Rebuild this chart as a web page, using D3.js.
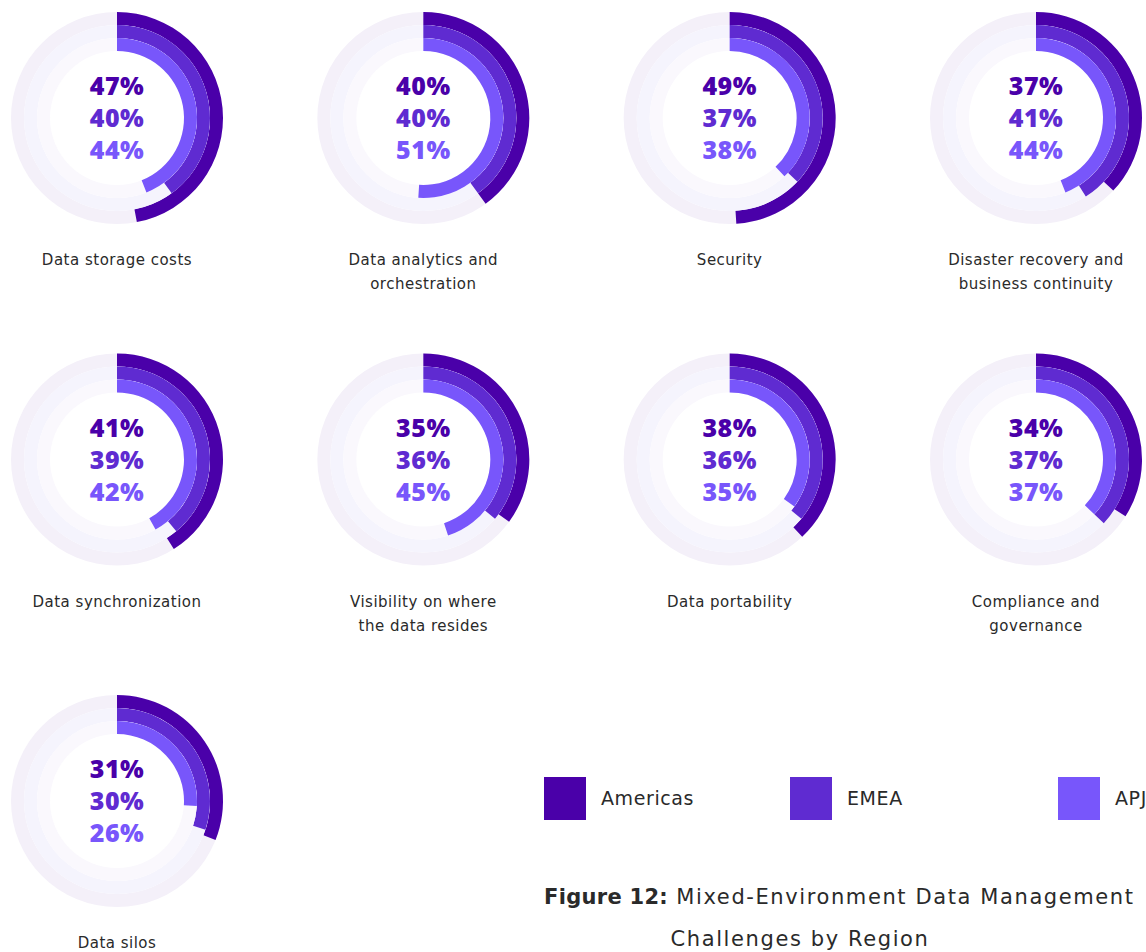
<!DOCTYPE html>
<html>
<head>
<meta charset="utf-8">
<script src="https://d3js.org/d3.v7.min.js"></script>
<style>
  body { margin: 0; background: #fff; }
  text { font-family: "DejaVu Sans", sans-serif; }
  text.pct { font-family: "Open Sans", sans-serif; }
</style>
</head>
<body>
<svg id="chart" width="1146" height="952"></svg>
<script>
// data
var categories = [
  ["Data storage costs"],
  ["Data analytics and", "orchestration"],
  ["Security"],
  ["Disaster recovery and", "business continuity"],
  ["Data synchronization"],
  ["Visibility on where", "the data resides"],
  ["Data portability"],
  ["Compliance and", "governance"],
  ["Data silos"]
];
var americas = [47, 40, 49, 37, 41, 35, 38, 34, 31];
var emea     = [40, 40, 37, 41, 39, 36, 36, 37, 30];
var apj      = [44, 51, 38, 44, 42, 45, 35, 37, 26];
var regions = ["Americas", "EMEA", "APJ"];

var colors = ["#4a00a9", "#5f2bd1", "#7856fb"];
var tracks = ["#f4f0f9", "#f5f4fd", "#faf8fd"];

var svg = d3.select("#chart");

// grid positions
var colX = d3.scalePoint().domain([0, 1, 2, 3]).range([117, 1036]);
var rowY = d3.scalePoint().domain([0, 1, 2]).range([118, 801]);

var angle = d3.scaleLinear().domain([0, 100]).range([0, 2 * Math.PI]);

// ring radii: outer -> inner
var radii = [[93, 106], [80, 93], [67, 80]];

categories.forEach(function(cat, i) {
  var vals = [americas[i], emea[i], apj[i]];
  var g = svg.append("g")
    .attr("transform", "translate(" + colX(i % 4) + "," + rowY(Math.floor(i / 4)) + ")");

  radii.forEach(function(r, k) {
    var arc = d3.arc().innerRadius(r[0]).outerRadius(r[1]).startAngle(0);
    g.append("path")
      .attr("d", arc({endAngle: 2 * Math.PI}))
      .attr("fill", tracks[k]);
    g.append("path")
      .attr("d", arc({endAngle: angle(vals[k])}))
      .attr("fill", colors[k]);
  });

  vals.forEach(function(v, k) {
    g.append("text")
      .attr("class", "pct")
      .attr("y", (k - 1) * 32)
      .attr("dy", "0.36em")
      .attr("text-anchor", "middle")
      .style("font-size", "25px")
      .style("font-weight", 800)
      .style("letter-spacing", "0.5px")
      .attr("fill", colors[k])
      .text(v + "%");
  });

  cat.forEach(function(line, j) {
    g.append("text")
      .attr("y", 142 + j * 24)
      .attr("dy", "0.35em")
      .attr("text-anchor", "middle")
      .style("font-size", "15px")
      .style("letter-spacing", "0.5px")
      .attr("fill", "#2a2a2a")
      .text(line);
  });
});

// legend
var legX = [544, 790, 1058];
regions.forEach(function(name, k) {
  svg.append("rect")
    .attr("x", legX[k]).attr("y", 777)
    .attr("width", 42).attr("height", 43)
    .attr("fill", colors[k]);
  svg.append("text")
    .attr("x", legX[k] + 57).attr("y", 798)
    .attr("dy", "0.35em")
    .style("font-size", "19px")
    .style("letter-spacing", "0.6px")
    .attr("fill", "#2a2a2a")
    .text(name);
});

// caption
var cap = svg.append("text")
  .attr("x", 544).attr("y", 897)
  .attr("dy", "0.35em")
  .style("font-size", "21px")
  .style("letter-spacing", "1.6px")
  .attr("fill", "#2a2a2a");
cap.append("tspan").style("font-weight", 700).style("letter-spacing", "0.3px").text("Figure 12:");
cap.append("tspan").text(" Mixed-Environment Data Management");
svg.append("text")
  .attr("x", 800).attr("y", 939)
  .attr("dy", "0.35em")
  .attr("text-anchor", "middle")
  .style("font-size", "21px")
  .style("letter-spacing", "1.6px")
  .attr("fill", "#2a2a2a")
  .text("Challenges by Region");
</script>
</body>
</html>
